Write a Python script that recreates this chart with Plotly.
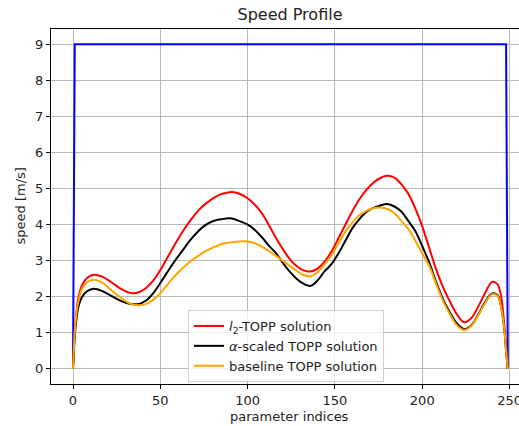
import plotly.graph_objects as go

# ---- data ----
idx = [0, 1, 2, 3, 5, 8, 12, 17, 22, 28, 33, 38, 42, 46, 50, 54, 58, 63, 67, 72,
       76, 80, 84, 88, 91, 95, 100, 103, 106, 109, 112, 116, 120, 124, 128, 132,
       136, 140, 144, 148, 152, 156, 160, 164, 168, 172, 176, 180, 184, 188, 192,
       196, 200, 204, 208, 212, 216, 220, 224, 228, 232, 236, 240, 243, 245, 247,
       248, 249]

l2_topp = [0, 1.0, 1.6, 1.95, 2.3, 2.52, 2.61, 2.55, 2.4, 2.2, 2.1, 2.13, 2.25,
           2.45, 2.74, 3.08, 3.42, 3.82, 4.1, 4.4, 4.58, 4.72, 4.83, 4.88, 4.9,
           4.86, 4.73, 4.6, 4.45, 4.25, 4.0, 3.65, 3.33, 3.05, 2.85, 2.73, 2.7,
           2.78, 2.97, 3.25, 3.62, 4.0, 4.37, 4.7, 4.96, 5.16, 5.29, 5.35, 5.3,
           5.12, 4.85, 4.45, 3.95, 3.35, 2.75, 2.25, 1.85, 1.5, 1.29, 1.4, 1.72,
           2.1, 2.41, 2.35, 2.05, 1.2, 0.6, 0]

alpha_topp = [0, 0.9, 1.4, 1.7, 1.98, 2.15, 2.22, 2.15, 2.02, 1.87, 1.8, 1.8, 1.9,
              2.1, 2.38, 2.68, 2.97, 3.3, 3.56, 3.83, 3.99, 4.09, 4.14, 4.17, 4.17,
              4.1, 4.0, 3.9, 3.76, 3.6, 3.42, 3.22, 2.95, 2.7, 2.5, 2.36, 2.3,
              2.45, 2.7, 2.9, 3.2, 3.55, 3.9, 4.15, 4.35, 4.46, 4.53, 4.57, 4.5,
              4.36, 4.1, 3.82, 3.4, 2.95, 2.4, 1.92, 1.55, 1.25, 1.1, 1.2, 1.5,
              1.85, 2.09, 2.05, 1.75, 1.1, 0.5, 0]

baseline_topp = [0, 1.0, 1.55, 1.85, 2.2, 2.4, 2.47, 2.38, 2.18, 1.95, 1.8, 1.76,
                 1.8, 1.92, 2.1, 2.33, 2.56, 2.8, 2.97, 3.14, 3.26, 3.36, 3.44,
                 3.49, 3.51, 3.53, 3.53, 3.5, 3.44, 3.36, 3.27, 3.14, 3.0, 2.86,
                 2.72, 2.6, 2.57, 2.68, 2.9, 3.15, 3.48, 3.8, 4.06, 4.26, 4.38,
                 4.45, 4.47, 4.43, 4.32, 4.1, 3.88, 3.55, 3.2, 2.85, 2.35, 1.87,
                 1.5, 1.2, 1.07, 1.18, 1.48, 1.82, 2.07, 2.03, 1.75, 1.1, 0.5, 0]

limit_idx = [0, 1, 248, 249]
limit_val = [0, 9, 9, 0]

x_ticks = [0, 50, 100, 150, 200, 250]
y_ticks = [0, 1, 2, 3, 4, 5, 6, 7, 8, 9]

FONT = "DejaVu Sans"
TXT = "#222"

fig = go.Figure()
fig.add_trace(go.Scatter(x=limit_idx, y=limit_val, mode="lines",
                         line=dict(color="blue", width=2), showlegend=False))
fig.add_trace(go.Scatter(x=idx, y=l2_topp, mode="lines",
                         line=dict(color="red", width=2, shape="spline", smoothing=1),
                         name="<i>l</i><sub>2</sub>-TOPP solution"))
fig.add_trace(go.Scatter(x=idx, y=alpha_topp, mode="lines",
                         line=dict(color="black", width=2, shape="spline", smoothing=1),
                         name="<i>α</i>-scaled TOPP solution"))
fig.add_trace(go.Scatter(x=idx, y=baseline_topp, mode="lines",
                         line=dict(color="orange", width=2, shape="spline", smoothing=1),
                         name="baseline TOPP solution"))

L, T, B, W, H = 51, 29, 42, 519, 426
PW, PH = W - L, H - T - B

fig.update_layout(
    width=W, height=H,
    margin=dict(l=L, r=0, t=T, b=B, pad=0, autoexpand=False),
    paper_bgcolor="white", plot_bgcolor="white",
    font=dict(family=FONT, size=13, color=TXT),
    title=dict(text="Speed Profile", font=dict(family=FONT, size=16, color=TXT),
               x=(290 - L) / PW, xref="paper", xanchor="center",
               y=1 - 14 / H, yref="container", yanchor="middle"),
    xaxis=dict(range=[-12.6, 255.4], tickvals=x_ticks, ticktext=[str(v) for v in x_ticks],
               showgrid=True, gridcolor="#b8b8b8", gridwidth=1, zeroline=False,
               showline=True, linecolor="black", linewidth=1, mirror=True,
               ticks="outside", ticklen=4, tickcolor="black", automargin=False,
               ticklabeloverflow="allow",
               tickfont=dict(family=FONT, size=13, color=TXT)),
    yaxis=dict(range=[-0.42, 9.42], tickvals=y_ticks, ticktext=[str(v) for v in y_ticks],
               showgrid=True, gridcolor="#b8b8b8", gridwidth=1, zeroline=False,
               showline=True, linecolor="black", linewidth=1, mirror=False,
               ticks="outside", ticklen=4, tickcolor="black", automargin=False,
               tickfont=dict(family=FONT, size=13, color=TXT)),
    legend=dict(x=(188 - L) / PW, y=(384 - 310) / PH,
                xanchor="left", yanchor="top",
                bgcolor="rgba(255,255,255,0.8)", bordercolor="#d0d0d0", borderwidth=1,
                font=dict(family=FONT, size=13, color=TXT),
                itemwidth=30, tracegroupgap=0),
    annotations=[
        dict(text="parameter indices", xref="paper", yref="paper",
             x=(289.5 - L) / PW, y=-(416 - 384) / PH,
             xanchor="center", yanchor="middle", showarrow=False,
             font=dict(family=FONT, size=13, color=TXT)),
        dict(text="speed [m/s]", xref="paper", yref="paper", textangle=-90,
             x=-(L - 20) / PW, y=0.5, xanchor="center", yanchor="middle",
             showarrow=False, font=dict(family=FONT, size=13, color=TXT)),
    ],
)

fig.write_html("out.html", config={"displayModeBar": False},
               post_script="document.body.style.margin='0';document.body.style.overflow='hidden';")
